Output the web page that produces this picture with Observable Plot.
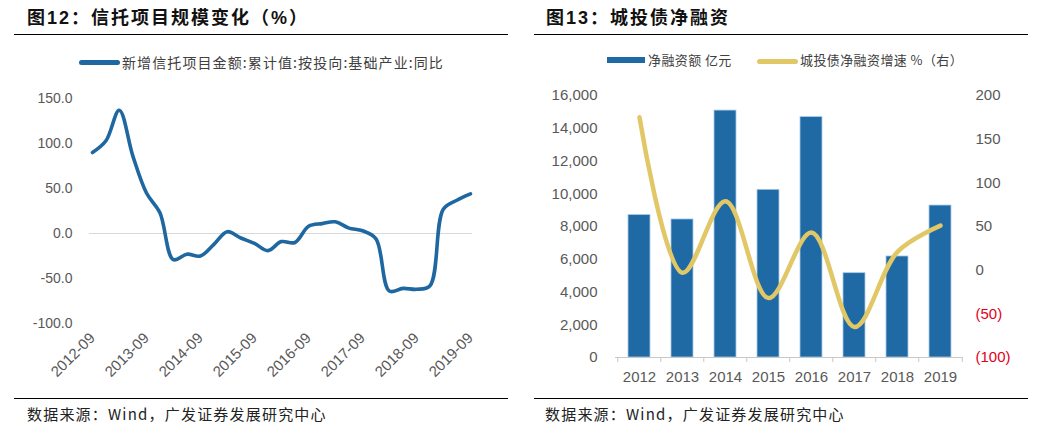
<!DOCTYPE html>
<html>
<head>
<meta charset="utf-8">
<script src="https://cdn.jsdelivr.net/npm/d3@7"></script>
<script src="https://cdn.jsdelivr.net/npm/@observablehq/plot@0.6"></script>
<style>
  html, body { margin: 0; padding: 0; background: #fff; }
  #page { position: relative; width: 1043px; height: 431px; overflow: hidden; background: #fff; }
  .abs { position: absolute; }
  .title { font-family: "Liberation Sans", "Noto Sans CJK SC", sans-serif; font-weight: bold; font-size: 18px; letter-spacing: 2px; color: #111; line-height: 20px; white-space: nowrap; }
  .rule { height: 0; border-top: 1.3px solid #000; }
  .legend { font-family: "Noto Sans CJK SC", sans-serif; color: #404040; white-space: nowrap; line-height: 16px; }
  .footer { font-family: "Noto Sans CJK SC", "Liberation Sans", sans-serif; font-size: 15px; letter-spacing: 1.2px; color: #222; white-space: nowrap; line-height: 18px; }
</style>
</head>
<body>
<div id="page">
  <!-- left panel -->
  <div class="abs title" style="left:27px; top:8px;">图12：信托项目规模变化（%）</div>
  <div class="abs rule" style="left:14px; top:34px; width:494px;"></div>
  <div class="abs" style="left:79px; top:60px; width:41px; height:4.5px; background:#1f67a0; border-radius:3px;"></div>
  <div class="abs legend" style="left:122px; top:54px; font-size:14px; letter-spacing:1.1px;">新增信托项目金额:累计值:按投向:基础产业:同比</div>
  <div class="abs" id="left" style="left:0px; top:80px;"></div>
  <div class="abs rule" style="left:14px; top:398px; width:494px;"></div>
  <div class="abs footer" style="left:27px; top:405px;">数据来源：Wind，广发证券发展研究中心</div>

  <!-- right panel -->
  <div class="abs title" style="left:546px; top:8px;">图13：城投债净融资</div>
  <div class="abs rule" style="left:534px; top:34px; width:494px;"></div>
  <div class="abs" style="left:607px; top:57px; width:38px; height:6px; background:#1f6aa5;"></div>
  <div class="abs legend" style="left:648px; top:52px; font-size:13px; letter-spacing:0.4px;">净融资额 亿元</div>
  <div class="abs" style="left:757px; top:58.5px; width:41px; height:5px; background:#e2c766; border-radius:3px;"></div>
  <div class="abs legend" style="left:800px; top:52px; font-size:13px; letter-spacing:0.4px;">城投债净融资增速 %（右）</div>
  <div class="abs" id="right" style="left:520px; top:80px;"></div>
  <div class="abs rule" style="left:534px; top:398px; width:494px;"></div>
  <div class="abs footer" style="left:545px; top:405px;">数据来源：Wind，广发证券发展研究中心</div>
</div>
<script>
// ---------- Data: left chart (quarterly YoY %, 2012-09 .. 2019-09) ----------
const trustMonths = [
  "2012-09","2012-12","2013-03","2013-06","2013-09","2013-12",
  "2014-03","2014-06","2014-09","2014-12","2015-03","2015-06",
  "2015-09","2015-12","2016-03","2016-06","2016-09","2016-12",
  "2017-03","2017-06","2017-09","2017-12","2018-03","2018-06",
  "2018-09","2018-12","2019-03","2019-06","2019-09"
];
const trustYoY = [
  90, 103, 137, 86, 45, 23,
  -29, -23, -25, -12, 2, -5,
  -11, -19, -9, -10, 8, 11,
  13, 6, 3, -6, -64, -61,
  -62, -58, 27, 37, 44
];
const trustTickLabels = ["2012-09","2013-09","2014-09","2015-09","2016-09","2017-09","2018-09","2019-09"];
const trustYTicks = [-100, -50, 0, 50, 100, 150];

// ---------- Data: right chart ----------
const years = ["2012","2013","2014","2015","2016","2017","2018","2019"];
const netFinancing = [8700, 8430, 15080, 10240, 14680, 5150, 6170, 9280];   // 亿元
const netFinancingGrowth = [175, -3, 79, -32, 43, -65, 21, 51];           // %
const leftTicks = [0, 2000, 4000, 6000, 8000, 10000, 12000, 14000, 16000];
const rightTicksPos = [0, 50, 100, 150, 200];
const rightTicksNeg = [-50, -100];
const leftDomain = [0, 16000];
const rightDomain = [-100, 200];

// ---------- Left chart ----------
const parse = d3.utcParse("%Y-%m");
const trustData = trustMonths.map((m, i) => ({date: parse(m), value: trustYoY[i]}));
const leftW = 520, leftH = 310;
const leftPlot = Plot.plot({
  width: leftW, height: leftH,
  marginLeft: 89, marginRight: 48, marginTop: 18, marginBottom: 67,
  style: {fontFamily: "Liberation Sans, Arial, sans-serif", fontSize: "14px", color: "#595959", background: "transparent"},
  x: {type: "utc", domain: [parse("2012-09"), parse("2019-09")], insetLeft: 3, insetRight: 2},
  y: {domain: [-100, 150]},
  marks: [
    Plot.ruleY([0], {stroke: "#d9d9d9", strokeWidth: 1}),
    Plot.line(trustData, {x: "date", y: "value", curve: "catmull-rom", stroke: "#1f67a0", strokeWidth: 3.6, strokeLinecap: "round", strokeLinejoin: "round"}),
    Plot.axisY(trustYTicks, {tickSize: 0, tickPadding: 17, tickFormat: d => d.toFixed(1), fontSize: 14, fill: "#595959", label: null}),
    Plot.axisX(trustTickLabels.map(parse), {tickSize: 0, tickPadding: 12, tickRotate: -45, tickFormat: d3.utcFormat("%Y-%m"), fontSize: 15, fill: "#595959", label: null})
  ]
});
document.getElementById("left").appendChild(leftPlot);

// ---------- Right chart ----------
const toLeft = v => leftDomain[0] + (v - rightDomain[0]) * (leftDomain[1] - leftDomain[0]) / (rightDomain[1] - rightDomain[0]);
const fromLeft = d => Math.round(rightDomain[0] + (d - leftDomain[0]) * (rightDomain[1] - rightDomain[0]) / (leftDomain[1] - leftDomain[0]));
const fmtRight = d => { const v = fromLeft(d); return v < 0 ? `(${-v})` : `${v}`; };
const finData = years.map((y, i) => ({year: y, amount: netFinancing[i], growth: netFinancingGrowth[i]}));

const rW = 523, rH = 310, rML = 95, rMR = 80;
const step = (rW - rML - rMR) / years.length;
const rightPlot = Plot.plot({
  width: rW, height: rH,
  marginLeft: rML, marginRight: rMR, marginTop: 15, marginBottom: 33,
  style: {fontFamily: "Liberation Sans, Arial, sans-serif", fontSize: "15px", color: "#595959", background: "transparent"},
  x: {type: "band", domain: years, paddingInner: 0.5, paddingOuter: 0.25},
  y: {domain: leftDomain},
  marks: [
    Plot.barY(finData, {x: "year", y: "amount", fill: "#1f6aa5", stroke: "#a9cbe8", strokeWidth: 0.8}),
    Plot.ruleY([0], {stroke: "#c8c8c8", strokeWidth: 1}),
    Plot.ruleX(years, {x: d => d, y1: 0, y2: 0, dx: -step / 2, insetBottom: -5, stroke: "#c8c8c8"}),
    Plot.ruleX([years[years.length - 1]], {x: d => d, y1: 0, y2: 0, dx: step / 2, insetBottom: -5, stroke: "#c8c8c8"}),
    Plot.line(finData, {x: "year", y: d => toLeft(d.growth), curve: "catmull-rom", stroke: "#e2c766", strokeWidth: 4.5, strokeLinecap: "round"}),
    Plot.axisY(leftTicks, {tickSize: 0, tickPadding: 18, tickFormat: d3.format(","), fontSize: 15, fill: "#595959", label: null}),
    Plot.axisY(rightTicksPos.map(toLeft), {anchor: "right", tickSize: 0, tickPadding: 12, tickFormat: fmtRight, fontSize: 15, fill: "#595959", label: null}),
    Plot.axisY(rightTicksNeg.map(toLeft), {anchor: "right", tickSize: 0, tickPadding: 12, tickFormat: fmtRight, fontSize: 15, fill: "#e3001b", label: null}),
    Plot.axisX({tickSize: 0, tickPadding: 14, fontSize: 15, fill: "#595959", label: null})
  ]
});
document.getElementById("right").appendChild(rightPlot);
</script>
</body>
</html>
